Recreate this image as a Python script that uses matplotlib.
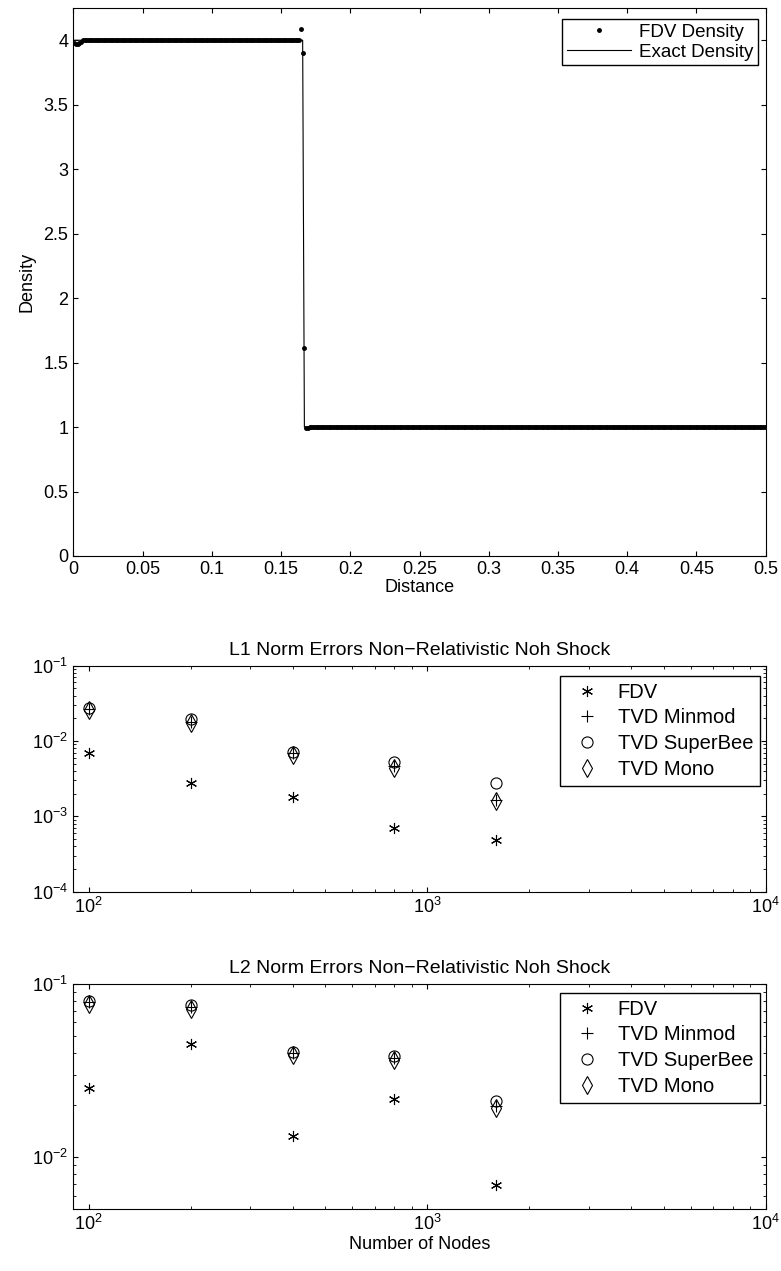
import numpy as np
import matplotlib
matplotlib.use("Agg")
import matplotlib.pyplot as plt
from matplotlib.ticker import NullFormatter, LogLocator

plt.rcParams['font.family'] = ['Liberation Sans', 'DejaVu Sans']
plt.rcParams['font.size'] = 13
plt.rcParams['xtick.direction'] = 'in'
plt.rcParams['ytick.direction'] = 'in'
plt.rcParams['xtick.top'] = True
plt.rcParams['ytick.right'] = True

# density profile (400 cells on [0, 0.5]), stored as run lengths
n_cells = 400
x_max = 0.5
fdv_levels = [3.98, 3.97, 3.97, 3.98, 3.99, 4.0, 4.09, 3.90, 1.61, 0.99, 1.0]
fdv_counts = [1, 1, 1, 1, 1, 126, 1, 1, 1, 2, 264]
exact_levels = [4.0, 1.0]
exact_counts = [133, 267]

# error norms
nodes = [100, 200, 400, 800, 1600]
l1_fdv = [0.0069, 0.00278, 0.0018, 0.0007, 0.00048]
l1_minmod = [0.0268, 0.0181, 0.0069, 0.0047, 0.00167]
l1_superbee = [0.0277, 0.0194, 0.0072, 0.0052, 0.00275]
l1_mono = [0.0255, 0.0172, 0.0065, 0.0044, 0.00162]
l2_fdv = [0.0250, 0.0450, 0.0132, 0.0217, 0.0069]
l2_minmod = [0.0792, 0.0739, 0.0400, 0.0374, 0.0197]
l2_superbee = [0.0796, 0.0757, 0.0405, 0.0383, 0.0212]
l2_mono = [0.0769, 0.0721, 0.0388, 0.0366, 0.0193]

dx = x_max / n_cells
xc = (np.arange(n_cells) + 0.5) * dx
rho_fdv = np.repeat(fdv_levels, fdv_counts)
rho_exact = np.repeat(exact_levels, exact_counts)

FW, FH = 781, 1271
fig = plt.figure(figsize=(FW / 100, FH / 100), dpi=100)
L = 73.3 / FW
W = (765.7 - 73.3) / FW


def fig_pt(x, y):
    # pixel position (from top-left) -> figure fraction
    return (x / FW, 1 - y / FH)


# density plot
ax1 = fig.add_axes([L, 1 - 556 / FH, W, (556 - 8) / FH])
ax1.plot(xc, rho_fdv, '.', color='k', markersize=5, label='FDV Density')
ax1.plot(xc, rho_exact, '-', color='k', lw=0.8, label='Exact Density')
ax1.set_xlim(0, 0.5)
ax1.set_ylim(0, 4.25)
ax1.set_xticks(np.arange(0, 0.51, 0.05))
ax1.set_xticklabels(['0', '0.05', '0.1', '0.15', '0.2', '0.25', '0.3', '0.35', '0.4', '0.45', '0.5'])
ax1.set_yticks(np.arange(0, 4.01, 0.5))
ax1.set_yticklabels(['0', '0.5', '1', '1.5', '2', '2.5', '3', '3.5', '4'])
ax1.set_xlabel('Distance', labelpad=1)
ax1.set_ylabel('Density', labelpad=6)
ax1.legend(loc='upper right', bbox_to_anchor=fig_pt(758, 19), bbox_transform=fig.transFigure,
           borderaxespad=0, fancybox=False, edgecolor='k', framealpha=1, fontsize=13.5,
           handlelength=3.4, handletextpad=0.45, borderpad=0.25, labelspacing=0.15,
           numpoints=1)


def err_plot(ax, fdv, mm, sb, mono, title, ylim, leg_top):
    ax.plot(nodes, fdv, ls='none', marker=(6, 2, 0), color='k', ms=8, mew=0.8, label='FDV')
    ax.plot(nodes, mm, ls='none', marker='+', color='k', ms=8, mew=0.8, label='TVD Minmod')
    ax.plot(nodes, sb, ls='none', marker='o', mfc='none', mec='k', ms=8, mew=0.8, label='TVD SuperBee')
    ax.plot(nodes, mono, ls='none', marker='d', mfc='none', mec='k', ms=9, mew=0.8, label='TVD Mono')
    ax.set_xscale('log')
    ax.set_yscale('log')
    ax.set_xlim(90, 1e4)
    ax.set_ylim(*ylim)
    ax.yaxis.set_minor_locator(LogLocator(base=10, subs=np.arange(2, 10)))
    ax.yaxis.set_minor_formatter(NullFormatter())
    ax.xaxis.set_minor_formatter(NullFormatter())
    ax.tick_params(which='both', direction='in', top=True, right=True)
    ax.set_title(title, fontsize=14, pad=8)
    ax.legend(loc='upper right', bbox_to_anchor=fig_pt(760, leg_top), bbox_transform=fig.transFigure,
              borderaxespad=0, fancybox=False, edgecolor='k', framealpha=1, fontsize=14.5,
              handlelength=2.0, handletextpad=0.55, borderpad=0.33, labelspacing=0.34)


ax2 = fig.add_axes([L, 1 - 891.7 / FH, W, (891.7 - 665.7) / FH])
err_plot(ax2, l1_fdv, l1_minmod, l1_superbee, l1_mono,
         'L1 Norm Errors Non\u2212Relativistic Noh Shock', (1e-4, 1e-1), 676)

ax3 = fig.add_axes([L, 1 - 1209.3 / FH, W, (1209.3 - 984) / FH])
err_plot(ax3, l2_fdv, l2_minmod, l2_superbee, l2_mono,
         'L2 Norm Errors Non\u2212Relativistic Noh Shock', (0.005, 0.1), 993)
ax3.set_xlabel('Number of Nodes', labelpad=1)

fig.savefig('out.png', dpi=100)
